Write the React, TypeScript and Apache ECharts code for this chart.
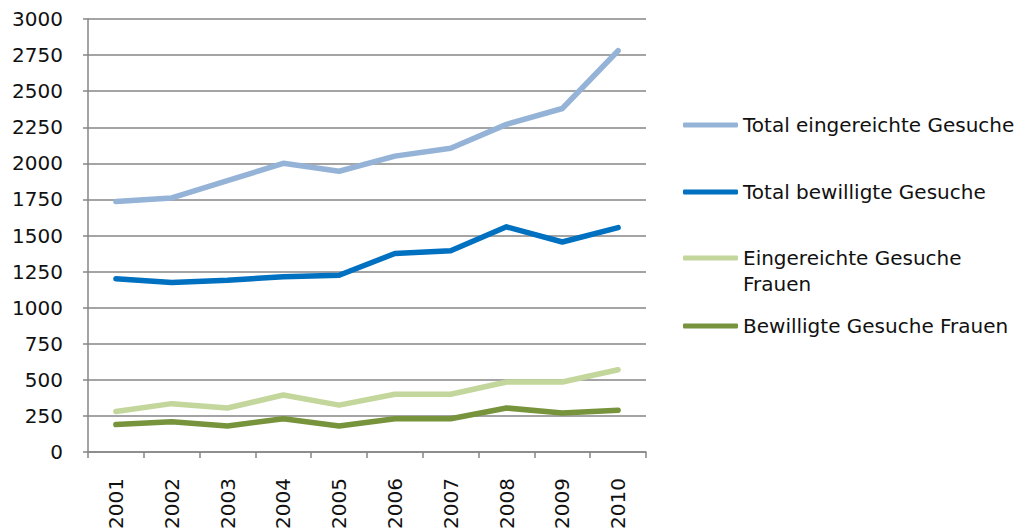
import React, { useEffect, useRef } from "react";
import * as echarts from "echarts";

const years = ["2001", "2002", "2003", "2004", "2005", "2006", "2007", "2008", "2009", "2010"];
const totalEingereicht = [1735, 1760, 1880, 2000, 1945, 2050, 2105, 2270, 2380, 2780];
const totalBewilligt = [1200, 1175, 1190, 1215, 1225, 1375, 1395, 1560, 1455, 1555];
const eingereichtFrauen = [280, 335, 305, 395, 325, 400, 400, 485, 485, 570];
const bewilligtFrauen = [190, 210, 180, 230, 180, 230, 230, 305, 270, 290];

const seriesNames = [
  "Total eingereichte Gesuche",
  "Total bewilligte Gesuche",
  "Eingereichte Gesuche Frauen",
  "Bewilligte Gesuche Frauen",
];
const legendLabels = [
  "Total eingereichte Gesuche",
  "Total bewilligte Gesuche",
  " \nEingereichte Gesuche\nFrauen",
  "Bewilligte Gesuche Frauen",
];
const colors = ["#95B3D7", "#0070C0", "#C3D69B", "#77933C"];
const seriesData = [totalEingereicht, totalBewilligt, eingereichtFrauen, bewilligtFrauen];
const legendCenters = [125, 192, 258, 326];

export default function App() {
  const ref = useRef<HTMLDivElement>(null);
  useEffect(() => {
    document.body.style.margin = "0";
    const chart = echarts.init(ref.current!, null, { renderer: "svg" });
    const font = "DejaVu Sans";
    const gray = "#868686";
    const textColor = "#111111";
    chart.setOption({
      animation: false,
      textStyle: { fontFamily: font },
      grid: { left: 88, right: 385, top: 19, bottom: 77, containLabel: false, outerBoundsMode: "none" },
      legend: seriesNames.map((n, i) => {
        const lines = legendLabels[i].split("\n").length;
        return {
          data: [n],
          orient: "vertical",
          left: 683,
          top: legendCenters[i] - (lines * 26) / 2,
          icon: "roundRect",
          itemWidth: 55,
          itemHeight: 5,
          padding: 0,
          formatter: () => legendLabels[i],
          textStyle: { fontFamily: font, fontSize: 20, color: textColor, lineHeight: 26 },
          selectedMode: false,
        };
      }),
      xAxis: {
        type: "category",
        data: years,
        boundaryGap: true,
        axisLine: { lineStyle: { color: gray, width: 1.5 } },
        axisTick: { show: true, length: 6, lineStyle: { color: gray, width: 1.5 } },
        axisLabel: { rotate: 90, margin: 26, fontSize: 20, color: textColor, fontFamily: font },
        splitLine: { show: false },
      },
      yAxis: {
        type: "value",
        min: 0,
        max: 3000,
        interval: 250,
        axisLine: { show: true, lineStyle: { color: gray, width: 1.5 } },
        axisTick: { show: true, length: 5, lineStyle: { color: gray, width: 1.5 } },
        axisLabel: {
          margin: 25,
          fontSize: 20,
          color: textColor,
          fontFamily: font,
          formatter: (v: number) => String(v),
        },
        splitLine: { show: true, lineStyle: { color: gray, width: 1.5 } },
      },
      series: seriesNames.map((n, i) => ({
        name: n,
        type: "line",
        data: seriesData[i],
        symbol: "none",
        showSymbol: false,
        lineStyle: { color: colors[i], width: 5.5, cap: "round", join: "round" },
        itemStyle: { color: colors[i] },
      })),
    });
    return () => chart.dispose();
  }, []);
  return <div ref={ref} style={{ width: 1031, height: 529 }} />;
}
